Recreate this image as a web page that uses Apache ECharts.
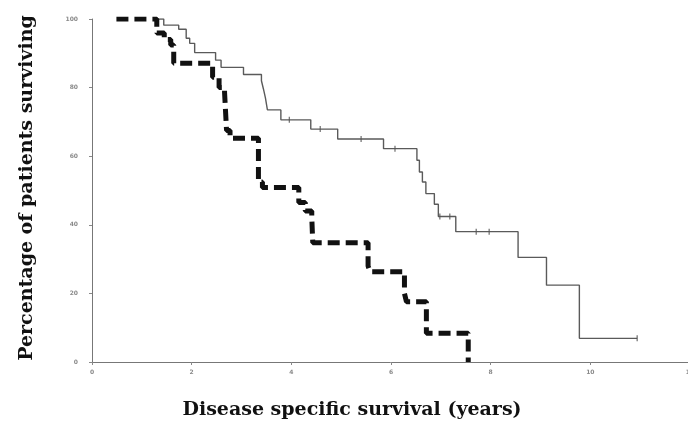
<!DOCTYPE html>
<html>
<head>
<meta charset="utf-8">
<script src="https://cdn.jsdelivr.net/npm/echarts@6/dist/echarts.min.js"></script>
<style>
  html, body { margin: 0; padding: 0; background: #ffffff; }
  #chart { width: 688px; height: 431px; }
</style>
</head>
<body>
<div id="chart"></div>
<script>
// Kaplan-Meier disease specific survival, two patient groups.
// Each pair is [years, % surviving from that time on].
const solidYears = [1.28, 1.44, 1.74, 1.89, 1.96, 2.06, 2.48, 2.59, 3.04, 3.40, 3.44, 3.48, 3.52, 3.79, 4.39, 4.93, 5.85, 6.52, 6.57, 6.63, 6.70, 6.87, 6.95, 7.30, 8.55, 9.12, 9.78, 10.94];
const solidPct   = [100, 98.2, 97.0, 94.4, 92.9, 90.2, 88.0, 85.9, 83.8, 82.0, 79.6, 77.0, 73.5, 70.6, 67.9, 65.0, 62.2, 58.8, 55.4, 52.5, 49.1, 46.0, 42.4, 38.0, 30.5, 22.4, 6.9, 6.9];

// Censored observations on the solid curve
const censorYears = [3.96, 4.58, 5.40, 6.08, 6.98, 7.18, 7.71, 7.97, 10.94];
const censorPct   = [70.6, 67.9, 65.0, 62.2, 42.4, 42.4, 38.0, 38.0, 6.9];

const dashedYears = [0.49, 1.30, 1.45, 1.58, 1.64, 2.42, 2.55, 2.66, 2.70, 2.77, 3.34, 3.42, 4.15, 4.28, 4.41, 4.43, 5.54, 5.58, 6.27, 6.31, 6.71, 7.55];
const dashedPct   = [100, 95.9, 94.0, 92.4, 87.1, 83.0, 80.0, 78.6, 67.5, 65.2, 52.5, 50.9, 46.5, 44.0, 42.3, 34.8, 28.0, 26.3, 20.0, 17.6, 8.4, 0];

const xTicks = [0, 2, 4, 6, 8, 10, 12];
const yTicks = [0, 20, 40, 60, 80, 100];

const pairs = (xs, ys) => xs.map((x, i) => [x, ys[i]]);

const chart = echarts.init(document.getElementById('chart'), null, { renderer: 'canvas' });

const tickFont = { fontSize: 6, color: '#8a8a8a', fontFamily: 'DejaVu Sans', fontWeight: 'bold' };
const titleFont = { fontFamily: 'DejaVu Serif', fontWeight: 'bold', fontSize: 19, fill: '#111' };

chart.setOption({
  animation: false,
  backgroundColor: '#ffffff',
  grid: { left: 92, right: -2, top: 19, bottom: 69, containLabel: false, outerBoundsMode: 'none' },
  xAxis: {
    type: 'value',
    min: xTicks[0],
    max: xTicks[xTicks.length - 1],
    interval: 2,
    axisLine: { lineStyle: { color: '#777', width: 1 } },
    axisTick: { show: true, length: 3, lineStyle: { color: '#888' } },
    axisLabel: Object.assign({ margin: 7, formatter: v => xTicks.includes(v) ? String(v) : '' }, tickFont),
    splitLine: { show: false }
  },
  yAxis: {
    type: 'value',
    min: yTicks[0],
    max: yTicks[yTicks.length - 1],
    interval: 20,
    axisLine: { show: true, lineStyle: { color: '#777', width: 1 } },
    axisTick: { show: true, length: 3, lineStyle: { color: '#888' } },
    axisLabel: Object.assign({ margin: 14, formatter: v => yTicks.includes(v) ? String(v) : '' }, tickFont),
    splitLine: { show: false }
  },
  graphic: [
    {
      type: 'text',
      x: 352, y: 410,
      style: Object.assign({ text: 'Disease specific survival (years)', align: 'center', verticalAlign: 'middle' }, titleFont),
      z: 10
    },
    {
      type: 'text',
      x: 27, y: 188,
      rotation: Math.PI / 2,
      style: Object.assign({ text: 'Percentage of patients surviving', align: 'center', verticalAlign: 'middle' }, titleFont),
      z: 10
    }
  ],
  series: [
    {
      name: 'solid',
      type: 'line',
      step: 'end',
      data: pairs(solidYears, solidPct),
      showSymbol: false,
      symbol: 'none',
      lineStyle: { color: '#5a5a5a', width: 1.4 },
      z: 2
    },
    {
      name: 'censored',
      type: 'scatter',
      data: pairs(censorYears, censorPct),
      symbol: 'rect',
      symbolSize: [1.3, 6],
      itemStyle: { color: '#555' },
      z: 3
    },
    {
      name: 'dashed',
      type: 'line',
      step: 'end',
      data: pairs(dashedYears, dashedPct),
      showSymbol: false,
      symbol: 'none',
      lineStyle: { color: '#111', width: 5, type: [12, 6], cap: 'butt' },
      z: 4
    }
  ]
});
</script>
</body>
</html>
